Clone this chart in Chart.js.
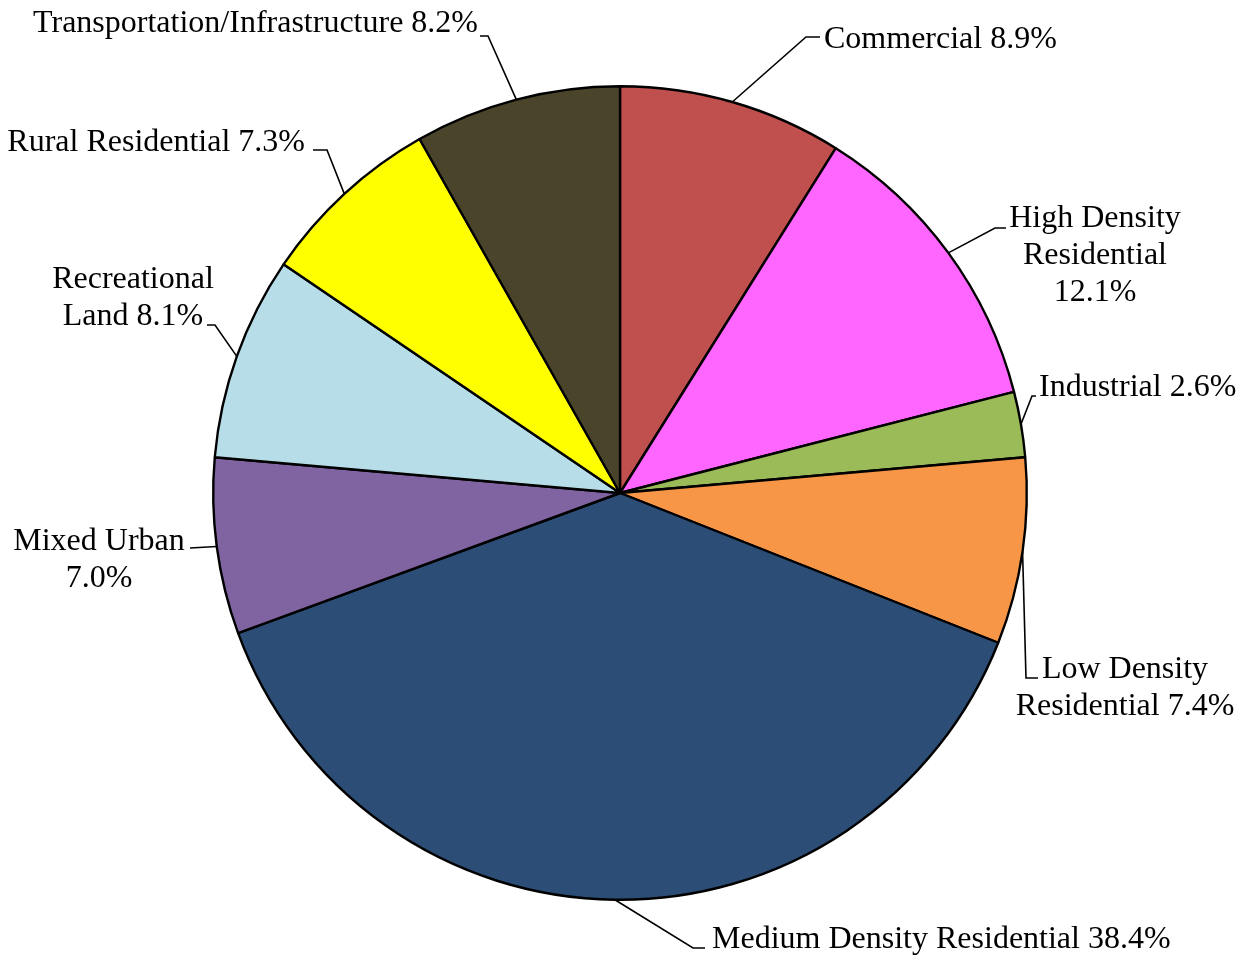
<!DOCTYPE html>
<html>
<head>
<meta charset="utf-8">
<script src="https://cdn.jsdelivr.net/npm/chart.js@4"></script>
<style>
  html, body { margin: 0; padding: 0; background: #ffffff; }
  #wrap { width: 1247px; height: 959px; }
</style>
</head>
<body>
<div id="wrap"><canvas id="chart_landuse"></canvas></div>
<script>
const landUse = document.getElementById("chart_landuse");

const categories = [
  "Commercial",
  "High Density Residential",
  "Industrial",
  "Low Density Residential",
  "Medium Density Residential",
  "Mixed Urban",
  "Recreational Land",
  "Rural Residential",
  "Transportation/Infrastructure",
];
const shares = [8.9, 12.1, 2.6, 7.4, 38.4, 7.0, 8.1, 7.3, 8.2];
const sliceColors = [
  "#C0504D", "#FF66FF", "#9BBB59", "#F79646", "#2C4D75",
  "#8064A2", "#B7DEE8", "#FFFF00", "#4A452A",
];
// how many words go on each line of a label
const wordsPerLine = [[3], [2, 1, 1], [2], [2, 2], [4], [2, 1], [1, 2], [3], [2]];

// leader elbow, end of the short tick, and where the label text sits
const labelLayout = [
  { elbow: [806, 37], tick: [820, 37], x: 824, y: 40, align: "left" },
  { elbow: [995, 228], tick: [1006, 228], x: 1095, y: 219, align: "center" },
  { elbow: [1032, 396], tick: [1036, 396], x: 1039, y: 388, align: "left" },
  { elbow: [1026, 678], tick: [1038, 678], x: 1125, y: 670, align: "center" },
  { elbow: [693, 948], tick: [705, 948], x: 712, y: 940, align: "left" },
  { elbow: [190, 548], tick: [190, 548], x: 99, y: 542, align: "center" },
  { elbow: [215, 325], tick: [207, 325], x: 133, y: 280, align: "center" },
  { elbow: [327, 150], tick: [313, 150], x: 305, y: 143, align: "right" },
  { elbow: [488, 36], tick: [480, 36], x: 478, y: 24, align: "right" },
];

function labelText(i) {
  const words = (categories[i] + " " + shares[i].toFixed(1) + "%").split(" ");
  const lines = [];
  let k = 0;
  wordsPerLine[i].forEach((n) => {
    lines.push(words.slice(k, k + n).join(" "));
    k += n;
  });
  return lines;
}

const leaderLabels = {
  id: "leaderLabels",
  afterDraw(chart) {
    const ctx = chart.ctx;
    const arcs = chart.getDatasetMeta(0).data;
    ctx.save();
    ctx.strokeStyle = "#000000";
    ctx.lineWidth = 1.6;
    ctx.fillStyle = "#000000";
    ctx.font = "32px 'Liberation Serif'";
    ctx.textBaseline = "middle";
    arcs.forEach((arc, i) => {
      const p = arc.getProps(["x", "y", "startAngle", "endAngle", "outerRadius"], true);
      const mid = (p.startAngle + p.endAngle) / 2;
      const ax = p.x + Math.cos(mid) * p.outerRadius;
      const ay = p.y + Math.sin(mid) * p.outerRadius;
      const l = labelLayout[i];
      ctx.beginPath();
      ctx.moveTo(ax, ay);
      ctx.lineTo(l.elbow[0], l.elbow[1]);
      ctx.lineTo(l.tick[0], l.tick[1]);
      ctx.stroke();
      ctx.textAlign = l.align;
      labelText(i).forEach((line, j) => {
        ctx.fillText(line, l.x, l.y + j * 37);
      });
    });
    ctx.restore();
  },
};

new Chart(landUse, {
  type: "pie",
  data: {
    labels: categories,
    datasets: [
      {
        data: shares,
        backgroundColor: sliceColors,
        borderColor: "#000000",
        borderWidth: 2.4,
      },
    ],
  },
  options: {
    responsive: true,
    maintainAspectRatio: false,
    animation: false,
    layout: {
      padding: { top: 85, bottom: 58, left: 212, right: 219 },
    },
    plugins: {
      legend: { display: false },
      tooltip: { enabled: false },
    },
  },
  plugins: [leaderLabels],
});
</script>
</body>
</html>
